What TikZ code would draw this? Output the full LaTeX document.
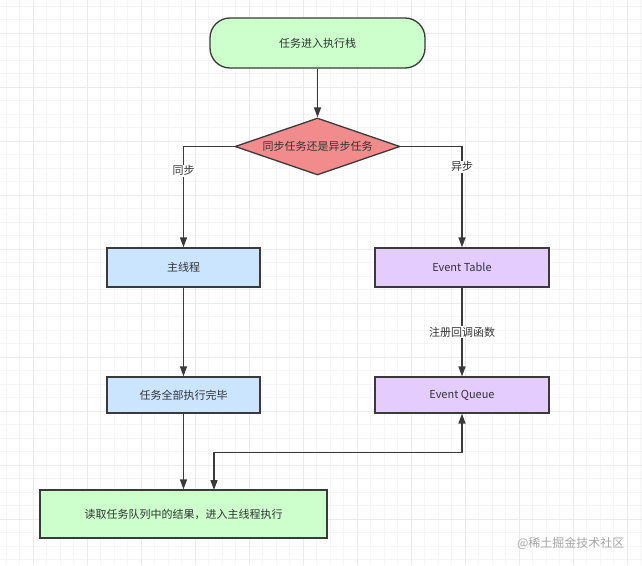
\documentclass[tikz,border=0pt]{standalone}
\usepackage{fontspec}
\setmainfont{Noto Sans CJK SC}
\usetikzlibrary{arrows.meta,shapes.geometric}
\definecolor{boxgreen}{HTML}{CCFFCC}
\definecolor{boxblue}{HTML}{CCE5FF}
\definecolor{boxpurple}{HTML}{E5CCFF}
\definecolor{boxred}{HTML}{F28B8B}
\definecolor{edge}{HTML}{3A3A3A}
\definecolor{txt}{HTML}{333333}
\begin{document}
\begin{tikzpicture}[x=1pt,y=-1pt]
	\tikzset{flowbox/.style={draw=edge,line width=1.3pt,text=txt,font=\fontsize{11}{13}\selectfont,inner sep=0pt},
		flowline/.style={draw=edge,line width=1.4pt,-{Triangle[width=7pt,length=10pt]}},
		flowlabel/.style={fill=white,text=txt,font=\fontsize{11}{13}\selectfont,inner sep=1pt},
		gridminor/.style={draw=black!4,line width=0.4pt},
		gridmajor/.style={draw=black!8,line width=0.6pt}}
	\useasboundingbox (0,0) rectangle (642,565);
	\fill[white] (0,0) rectangle (642,565);
	% background grid
	\foreach \k in {0,...,47} \draw[gridminor] (6+\k*13.5,0) -- (6+\k*13.5,565);
	\foreach \k in {0,...,42} \draw[gridminor] (0,6+\k*13.5) -- (642,6+\k*13.5);
	\foreach \k in {0,...,11} \draw[gridmajor] (33+\k*54,0) -- (33+\k*54,565);
	\foreach \k in {0,...,10} \draw[gridmajor] (0,33+\k*54) -- (642,33+\k*54);
	% nodes
	\node[flowbox,fill=boxgreen,rounded corners=20pt,minimum width=215pt,minimum height=50pt] (enter) at (317.5,43) {任务进入执行栈};
	\node[flowbox,fill=boxred,diamond,aspect=2.9,minimum width=165pt,minimum height=57pt] (judge) at (317.5,146.5) {同步任务还是异步任务};
	\node[flowbox,fill=boxblue,minimum width=153pt,minimum height=39pt] (mainthread) at (183.5,267.5) {主线程};
	\node[flowbox,fill=boxpurple,minimum width=174pt,minimum height=39pt] (evtable) at (462,267.5) {Event Table};
	\node[flowbox,fill=boxblue,minimum width=153pt,minimum height=36pt] (alldone) at (183.5,395) {任务全部执行完毕};
	\node[flowbox,fill=boxpurple,minimum width=174pt,minimum height=36pt] (evqueue) at (462,395) {Event Queue};
	\node[flowbox,fill=boxgreen,minimum width=287pt,minimum height=48pt] (readresult) at (183.5,514) {读取任务队列中的结果，进入主线程执行};
	\coordinate (mergein) at (214,490);
	% connectors
	\draw[flowline] (enter) -- (judge);
	\draw[flowline] (judge.west) -| node[flowlabel,pos=0.62] {同步} (mainthread.north);
	\draw[flowline] (judge.east) -| node[flowlabel,pos=0.6] {异步} (evtable.north);
	\draw[flowline] (mainthread) -- (alldone);
	\draw[flowline] (evtable) -- node[flowlabel] {注册回调函数} (evqueue);
	\draw[flowline] (alldone) -- (readresult);
	\draw[flowline,{Triangle[width=7pt,length=10pt]}-{Triangle[width=7pt,length=10pt]}] (evqueue.south) -- ++(0,39) -| (mergein);
	% watermark
	\node[anchor=east,text=black!35,font=\fontsize{12}{14}\selectfont] (mark) at (628,543) {@稀土掘金技术社区};
\end{tikzpicture}
\end{document}
